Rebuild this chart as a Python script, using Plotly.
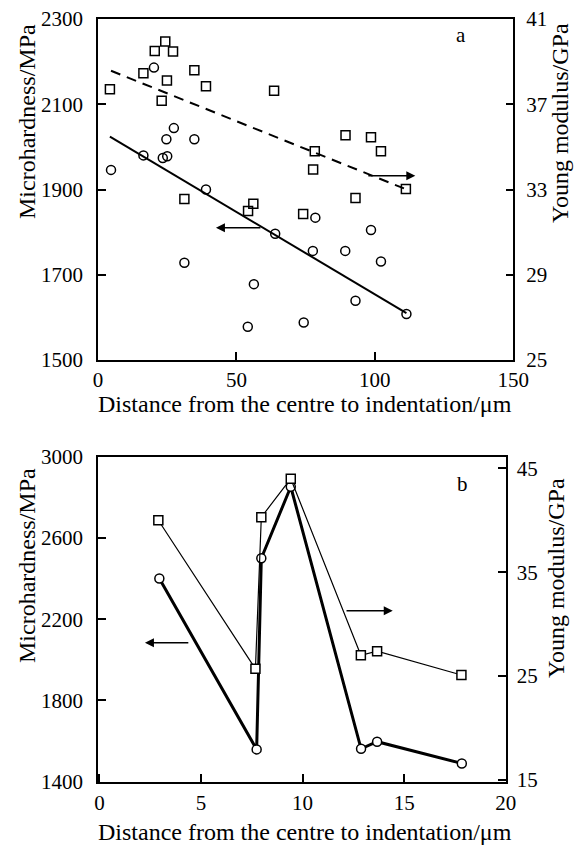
import plotly.graph_objects as go

# ---------- Panel a data ----------
a_circle_x = [4.7, 16.4, 20.2, 23.4, 25.0, 24.7, 27.4, 34.8, 39.0, 31.2, 54.1,
              56.3, 64.0, 74.3, 77.6, 78.5, 89.3, 93.0, 98.6, 102.2, 111.4]
a_circle_y = [1946, 1980, 2186, 1974, 1978, 2018, 2044, 2018, 1900, 1728, 1578,
              1678, 1796, 1588, 1756, 1834, 1756, 1639, 1805, 1731, 1608]
a_square_x = [4.3, 16.4, 20.5, 24.3, 27.1, 24.9, 23.0, 34.8, 39.0, 63.6, 78.3,
              77.7, 31.2, 89.4, 98.6, 102.2, 111.2, 93.0, 54.2, 56.1, 74.1]
a_square_y = [37.7, 38.45, 39.5, 39.94, 39.47, 38.12, 37.17, 38.59, 37.84, 37.63, 34.79,
              33.94, 32.55, 35.54, 35.45, 34.79, 33.02, 32.6, 31.99, 32.33, 31.85]
a_fit_hard_x = [4.3, 111.4]
a_fit_hard_y = [2024, 1610]
a_fit_mod_x = [4.7, 110.5]
a_fit_mod_y = [38.57, 33.05]

# ---------- Panel b data ----------
b_x_circle = [2.95, 7.74, 7.97, 9.42, 12.88, 13.67, 17.84]
b_hard = [2400, 1559, 2500, 2852, 1562, 1597, 1490]
b_x_square = [2.90, 7.68, 7.97, 9.42, 12.87, 13.67, 17.82]
b_mod = [40.0, 25.7, 40.3, 44.0, 27.0, 27.4, 25.1]

a_xticks = [0, 50, 100, 150]
a_yticks_left = [1500, 1700, 1900, 2100, 2300]
a_yticks_right = [25, 29, 33, 37, 41]
b_xticks = [0, 5, 10, 15, 20]
b_yticks_left = [1400, 1800, 2200, 2600, 3000]
b_yticks_right = [15, 25, 35, 45]

W, H = 575, 848
FONT = "Liberation Serif, Times New Roman, serif"
TICKF = dict(family=FONT, size=21, color="black")
TITLEF = dict(family=FONT, size=24, color="black")

def px_x(p):
    return p / W

def px_y(p):
    return 1 - p / H

fig = go.Figure()

circ = dict(symbol="circle-open", size=9, color="black", line=dict(width=1.5, color="black"))
sq = dict(symbol="square-open", size=9, color="black", line=dict(width=1.5, color="black"))
circ_w = dict(symbol="circle", size=9, color="white", line=dict(width=1.5, color="black"))
sq_w = dict(symbol="square", size=9, color="white", line=dict(width=1.5, color="black"))

# panel a
fig.add_trace(go.Scatter(x=a_fit_hard_x, y=a_fit_hard_y, mode="lines",
                         line=dict(color="black", width=2), xaxis="x", yaxis="y"))
fig.add_trace(go.Scatter(x=a_fit_mod_x, y=a_fit_mod_y, mode="lines",
                         line=dict(color="black", width=2, dash="10px,7px"), xaxis="x", yaxis="y2"))
fig.add_trace(go.Scatter(x=a_circle_x, y=a_circle_y, mode="markers", marker=circ,
                         xaxis="x", yaxis="y"))
fig.add_trace(go.Scatter(x=a_square_x, y=a_square_y, mode="markers", marker=sq,
                         xaxis="x", yaxis="y2"))

# panel b
fig.add_trace(go.Scatter(x=b_x_square, y=b_mod, mode="lines+markers", marker=sq_w,
                         line=dict(color="black", width=1.2), xaxis="x2", yaxis="y4"))
fig.add_trace(go.Scatter(x=b_x_circle, y=b_hard, mode="lines+markers", marker=circ_w,
                         line=dict(color="black", width=3), xaxis="x2", yaxis="y3"))

axis_common = dict(showline=True, linecolor="black", linewidth=1.5, ticks="inside",
                   ticklen=8, tickwidth=1.5, tickcolor="black", showgrid=False,
                   zeroline=False, tickfont=TICKF, automargin=False)

dom_a_x = [px_x(98), px_x(513.3)]
dom_a_y = [px_y(360), px_y(19)]
dom_b_x = [px_x(98), px_x(505.7)]
dom_b_y = [px_y(781.7), px_y(456.7)]

fig.update_layout(
    width=W, height=H, margin=dict(l=0, r=0, t=0, b=0),
    paper_bgcolor="white", plot_bgcolor="white", showlegend=False,
    template="none",
    xaxis=dict(domain=dom_a_x, range=[0, 150], tickvals=a_xticks, anchor="y",
               mirror=True, ticklabelstandoff=0, **axis_common),
    yaxis=dict(domain=dom_a_y, range=[1500, 2300], tickvals=a_yticks_left, anchor="x",
               ticklabelstandoff=9, **axis_common),
    yaxis2=dict(range=[25, 41], tickvals=a_yticks_right, overlaying="y", side="right",
                anchor="x", ticklabelstandoff=7, **axis_common),
    xaxis2=dict(domain=dom_b_x, range=[-0.07, 20], tickvals=b_xticks, anchor="y3",
                mirror=True, ticklabelstandoff=1, **axis_common),
    yaxis3=dict(domain=dom_b_y, range=[1400, 3000], tickvals=b_yticks_left, anchor="x2",
                ticklabelstandoff=9, **axis_common),
    yaxis4=dict(range=[14.83, 46.12], tickvals=b_yticks_right, overlaying="y3", side="right",
                anchor="x2", ticklabelstandoff=5, **axis_common),
)

ann = []
C = dict(xref="paper", yref="paper", showarrow=False, xanchor="center", yanchor="middle")
# axis titles
XT = "Distance from the centre to indentation/μm"
ann.append(dict(text=XT, x=px_x(305), y=px_y(404), font=TITLEF, **C))
ann.append(dict(text=XT, x=px_x(305), y=px_y(832), font=TITLEF, **C))
ann.append(dict(text="Microhardness/MPa", x=px_x(27), y=px_y(122), textangle=-90, font=TITLEF, **C))
ann.append(dict(text="Microhardness/MPa", x=px_x(27), y=px_y(566), textangle=-90, font=TITLEF, **C))
ann.append(dict(text="Young modulus/GPa", x=px_x(560), y=px_y(123), textangle=-90, font=TITLEF, **C))
ann.append(dict(text="Young modulus/GPa", x=px_x(556), y=px_y(578), textangle=-90, font=TITLEF, **C))
# panel letters
ann.append(dict(text="a", x=px_x(461), y=px_y(35), font=TICKF, **C))
ann.append(dict(text="b", x=px_x(462), y=px_y(484), font=TICKF, **C))
# arrows
arrow = dict(showarrow=True, arrowhead=2, arrowsize=1.2, arrowwidth=1.5, arrowcolor="black",
             text="", standoff=0, startstandoff=0)
ann.append(dict(x=114.6, y=1932, ax=97.1, ay=1932, xref="x", yref="y", axref="x", ayref="y", **arrow))
ann.append(dict(x=42.6, y=1810, ax=59.2, ay=1810, xref="x", yref="y", axref="x", ayref="y", **arrow))
ann.append(dict(x=2.24, y=2084, ax=4.45, ay=2084, xref="x2", yref="y3", axref="x2", ayref="y3", **arrow))
ann.append(dict(x=14.44, y=2242, ax=12.09, ay=2242, xref="x2", yref="y3", axref="x2", ayref="y3", **arrow))
fig.update_layout(annotations=ann)

fig.write_html("out.html")
